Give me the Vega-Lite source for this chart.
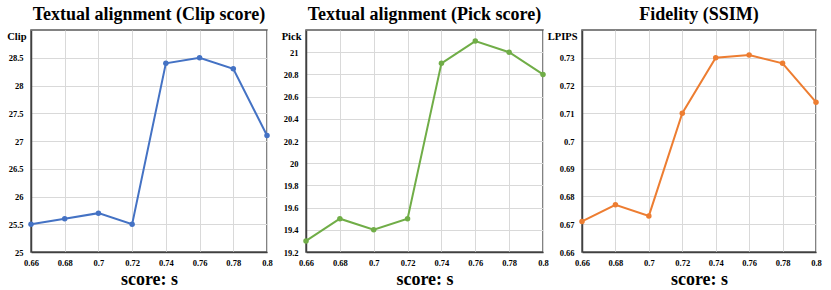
{
  "$schema": "https://vega.github.io/schema/vega-lite/v6.json",
  "background": "white",
  "padding": {"left": 5, "right": 5, "top": 5, "bottom": 5},
  "bounds": "flush",
  "spacing": 39,
  "datasets": {
    "clip": [
      {"s": 0.66, "v": 25.5}, {"s": 0.68, "v": 25.6}, {"s": 0.70, "v": 25.7}, {"s": 0.72, "v": 25.5},
      {"s": 0.74, "v": 28.4}, {"s": 0.76, "v": 28.5}, {"s": 0.78, "v": 28.3}, {"s": 0.80, "v": 27.1}
    ],
    "pick": [
      {"s": 0.66, "v": 19.3}, {"s": 0.68, "v": 19.5}, {"s": 0.70, "v": 19.4}, {"s": 0.72, "v": 19.5},
      {"s": 0.74, "v": 20.9}, {"s": 0.76, "v": 21.1}, {"s": 0.78, "v": 21.0}, {"s": 0.80, "v": 20.8}
    ],
    "ssim": [
      {"s": 0.66, "v": 0.671}, {"s": 0.68, "v": 0.677}, {"s": 0.70, "v": 0.673}, {"s": 0.72, "v": 0.710},
      {"s": 0.74, "v": 0.730}, {"s": 0.76, "v": 0.731}, {"s": 0.78, "v": 0.728}, {"s": 0.80, "v": 0.714}
    ]
  },
  "config": {
    "font": "Liberation Serif",
    "view": {"stroke": "#595959", "strokeWidth": 1.5},
    "title": {"font": "Liberation Serif", "fontSize": 18, "fontWeight": "bold", "color": "black", "offset": 6},
    "style": {
      "guide-label": {"font": "Liberation Serif", "fontWeight": "bold", "fill": "black"},
      "guide-title": {"font": "Liberation Serif", "fontWeight": "bold", "fill": "black"}
    },
    "axis": {
      "labelFont": "Liberation Serif", "labelFontSize": 8.5, "labelFontWeight": "bold", "labelColor": "black",
      "titleFont": "Liberation Serif", "titleColor": "black", "titleFontWeight": "bold",
      "gridColor": "#d9d9d9", "gridWidth": 1, "ticks": false, "labelFlush": false, "labelOverlap": false,
      "domainColor": "#404040", "domainWidth": 1.5
    },
    "axisX": {"labelPadding": 6, "titleFontSize": 18, "titlePadding": 4, "titleFont": "Liberation Serif", "labelFont": "Liberation Serif"},
    "axisY": {"labelPadding": 8, "titleFontSize": 10.5, "titleAngle": 0, "titleAlign": "right", "titleBaseline": "middle", "titleX": -5, "titleY": 6, "titleFont": "Liberation Serif", "labelFont": "Liberation Serif"},
    "line": {"strokeWidth": 2}
  },
  "hconcat": [
    {
      "width": 236, "height": 222,
      "title": "Textual alignment (Clip score)",
      "data": {"name": "clip"},
      "mark": {"type": "line", "color": "#4472C4", "point": {"size": 30, "filled": true, "color": "#4472C4", "opacity": 1}},
      "encoding": {
        "x": {"field": "s", "type": "quantitative", "scale": {"domain": [0.66, 0.8], "nice": false, "zero": false},
              "axis": {"title": "score: s", "values": [0.66, 0.68, 0.7, 0.72, 0.74, 0.76, 0.78, 0.8], "format": ".2~f"}},
        "y": {"field": "v", "type": "quantitative", "scale": {"domain": [25, 29], "nice": false, "zero": false},
              "axis": {"title": "Clip", "values": [25, 25.5, 26, 26.5, 27, 27.5, 28, 28.5], "format": ".1~f"}}
      }
    },
    {
      "width": 237, "height": 222,
      "title": "Textual alignment (Pick score)",
      "data": {"name": "pick"},
      "mark": {"type": "line", "color": "#70AD47", "point": {"size": 30, "filled": true, "color": "#70AD47", "opacity": 1}},
      "encoding": {
        "x": {"field": "s", "type": "quantitative", "scale": {"domain": [0.66, 0.8], "nice": false, "zero": false},
              "axis": {"title": "score: s", "values": [0.66, 0.68, 0.7, 0.72, 0.74, 0.76, 0.78, 0.8], "format": ".2~f"}},
        "y": {"field": "v", "type": "quantitative", "scale": {"domain": [19.2, 21.2], "nice": false, "zero": false},
              "axis": {"title": "Pick", "values": [19.2, 19.4, 19.6, 19.8, 20, 20.2, 20.4, 20.6, 20.8, 21], "format": ".1~f"}}
      }
    },
    {
      "width": 234, "height": 222,
      "title": "Fidelity (SSIM)",
      "data": {"name": "ssim"},
      "mark": {"type": "line", "color": "#ED7D31", "point": {"size": 30, "filled": true, "color": "#ED7D31", "opacity": 1}},
      "encoding": {
        "x": {"field": "s", "type": "quantitative", "scale": {"domain": [0.66, 0.8], "nice": false, "zero": false},
              "axis": {"title": "score: s", "values": [0.66, 0.68, 0.7, 0.72, 0.74, 0.76, 0.78, 0.8], "format": ".2~f"}},
        "y": {"field": "v", "type": "quantitative", "scale": {"domain": [0.66, 0.74], "nice": false, "zero": false},
              "axis": {"title": "LPIPS", "values": [0.66, 0.67, 0.68, 0.69, 0.7, 0.71, 0.72, 0.73], "format": ".2~f"}}
      }
    }
  ]
}
